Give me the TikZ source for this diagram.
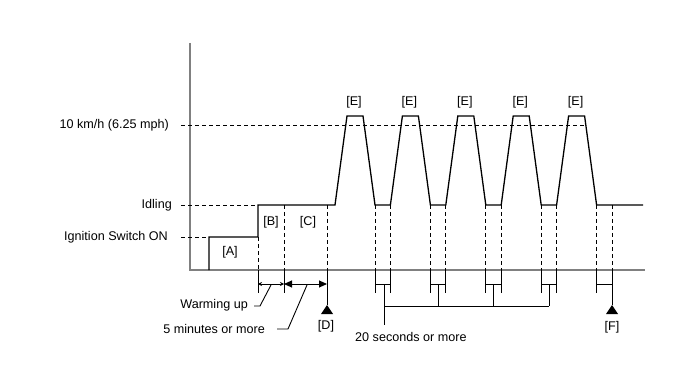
\documentclass[tikz,border=0pt]{standalone}
\usepackage{fontspec}
\setmainfont{Liberation Sans}
\usetikzlibrary{arrows.meta}
\begin{document}
\begin{tikzpicture}[x=1pt,y=-1pt,
  axis/.style={draw=black!50,line width=1.4pt},
  sig/.style={draw=black,line width=1.3pt,line join=miter},
  guide/.style={draw=black,line width=0.9pt,dash pattern=on 4pt off 3pt},
  tick/.style={draw=black,line width=1pt},
  lbl/.style={font=\fontsize{12.6}{14}\selectfont,inner sep=0pt},
  tri/.style={fill=black}]
\useasboundingbox (0,0) rectangle (688,366);
% axes
\coordinate (yt) at (190,43);
\coordinate (o) at (190,270);
\coordinate (xe) at (645,270);
\draw[axis] (yt) -- (o) -- (xe);
% level labels
\node[lbl,anchor=east] (l10) at (169,125) {10 km/h (6.25 mph)};
\node[lbl,anchor=east] (lidle) at (172,205) {Idling};
\node[lbl,anchor=east] (lign) at (168,237) {Ignition Switch ON};
% level guides
\draw[guide] (181,125) -- (584,125);
\draw[guide] (181,205) -- (258,205);
\draw[guide] (181,237) -- (209,237);
% signal
\draw[sig] (209,270) -- (209,237) -- (258,237) -- (258,205) -- (335,205)
  \foreach \k in {0,...,4}{
    -- ({335+55.4*\k+12},116) -- ({335+55.4*\k+28},116) -- ({335+55.4*\k+40},205) -- ({335+55.4*\k+55.4},205)
  } -- (643,205);
% E labels
\foreach \k in {0,...,4}{
  \node[lbl] (e\k) at ({335+55.4*\k+19},102) {[E]};
}
% left phase labels
\node[lbl] (a) at (230,252) {[A]};
\node[lbl] (b) at (271,222) {[B]};
\node[lbl] (c) at (308,222) {[C]};
% left verticals
\draw[guide] (258,237) -- (258,270);
\draw[guide] (284,205) -- (284,270);
\draw[guide] (327,205) -- (327,270);
\draw[tick] (258,270) -- (258,293);
\draw[tick] (284,270) -- (284,293);
\draw[tick] (327,270) -- (327,305);
\fill[tri] (327,305) -- (333,314) -- (321,314) -- cycle;
\node[lbl] (d) at (326,326) {[D]};
% warming-up arrows
\coordinate (wa) at (258,284);
\coordinate (wb) at (284,284);
\coordinate (wc) at (327,284);
\draw[tick,line width=0.9pt,{Stealth[length=4pt,width=4pt]}-{Stealth[length=4pt,width=4pt]}] (wa) -- (wb);
\draw[tick,line width=0.9pt,{Triangle[length=8pt,width=7pt]}-{Triangle[length=8pt,width=7pt]}] (wb) -- (wc);
\node[lbl,anchor=east] (wu) at (248,305) {Warming up};
\node[lbl,anchor=east] (fm) at (265,329) {5 minutes or more};
\draw[tick,line width=0.9pt] (254,306) -- (260,306) -- (271,285);
\draw[tick,line width=0.9pt] (277,329) -- (288,329) -- (307,285);
% 20 s brackets
\foreach \k in {0,...,4}{
  \pgfmathsetmacro{\bl}{335+55.4*\k+40}
  \pgfmathsetmacro{\br}{335+55.4*\k+55.4}
  \draw[guide] (\bl,205) -- (\bl,270);
  \draw[guide] (\br,205) -- (\br,270);
  \draw[tick] (\bl,270) -- (\bl,293);
  \draw[tick] (\bl,284) -- (\br,284);
}
\foreach \k in {0,...,3}{
  \pgfmathsetmacro{\br}{335+55.4*\k+55.4}
  \draw[tick] (\br,270) -- (\br,293);
}
\draw[tick] (612,270) -- (612,305);
\fill[tri] (612,305) -- (618,314) -- (606,314) -- cycle;
\node[lbl] (f) at (612,327) {[F]};
% 20 seconds connector
\draw[tick] (384,284) -- (384,325);
\draw[tick] (384,306) -- (549,306);
\draw[tick] (438.5,284) -- (438.5,306);
\draw[tick] (493.5,284) -- (493.5,306);
\draw[tick] (549,284) -- (549,306);
\node[lbl,anchor=west] (tw) at (355,337) {20 seconds or more};
\end{tikzpicture}
\end{document}
